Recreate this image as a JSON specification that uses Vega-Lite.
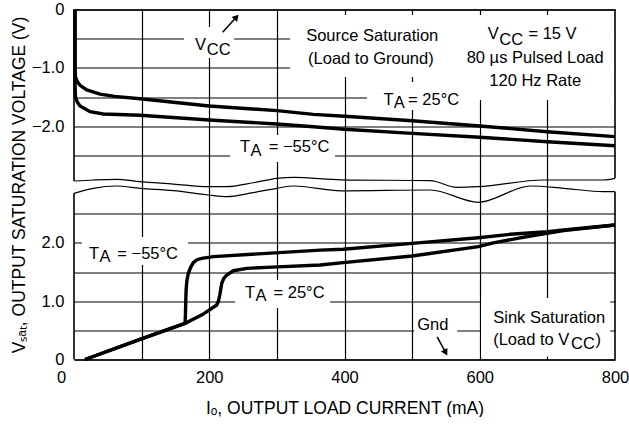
{
"$schema": "https://vega.github.io/schema/vega-lite/v6.json",
"background": "white",
"padding": {"left": 10, "top": 1.5, "right": 0, "bottom": 0},
"spacing": 0,
"bounds": "flush",
"resolve": {"scale": {"x": "independent", "y": "independent"}},
"config": {
  "view": {"stroke": null},
  "font": "Liberation Sans",
  "axis": {"labelFont": "Liberation Sans", "labelFontSize": 16.5, "labelColor": "black", "titleFont": "Liberation Sans", "titleFontSize": 17.5, "titleFontWeight": "normal", "titleColor": "black", "gridColor": "black", "gridWidth": 1.2, "gridOpacity": 1, "domainColor": "black", "domainWidth": 1.6, "ticks": false},
  "text": {"font": "Liberation Sans", "fontSize": 16.5}
},
"datasets": {
  "src": [
    {"I":1.5,"V":0,"T":"25"},{"I":1.5,"V":-1.0,"T":"25"},{"I":2.2,"V":-1.16,"T":"25"},{"I":5,"V":-1.24,"T":"25"},{"I":8.9,"V":-1.3,"T":"25"},{"I":18.8,"V":-1.38,"T":"25"},{"I":38.5,"V":-1.45,"T":"25"},{"I":60,"V":-1.49,"T":"25"},{"I":97.6,"V":-1.53,"T":"25"},{"I":200,"V":-1.654,"T":"25"},{"I":300,"V":-1.734,"T":"25"},{"I":354,"V":-1.797,"T":"25"},{"I":400,"V":-1.83,"T":"25"},{"I":500,"V":-1.906,"T":"25"},{"I":600,"V":-1.997,"T":"25"},{"I":700,"V":-2.095,"T":"25"},{"I":800,"V":-2.18,"T":"25"},
    {"I":1.5,"V":0,"T":"-55"},{"I":1.5,"V":-1.3,"T":"-55"},{"I":2.2,"V":-1.5,"T":"-55"},{"I":5,"V":-1.59,"T":"-55"},{"I":8.9,"V":-1.654,"T":"-55"},{"I":23.7,"V":-1.752,"T":"-55"},{"I":43.3,"V":-1.791,"T":"-55"},{"I":97.6,"V":-1.812,"T":"-55"},{"I":200,"V":-1.894,"T":"-55"},{"I":300,"V":-1.963,"T":"-55"},{"I":354,"V":-2.009,"T":"-55"},{"I":400,"V":-2.054,"T":"-55"},{"I":500,"V":-2.123,"T":"-55"},{"I":600,"V":-2.19,"T":"-55"},{"I":700,"V":-2.266,"T":"-55"},{"I":800,"V":-2.335,"T":"-55"}
  ],
  "snk": [
    {"I":16.3,"V":0,"T":"-55"},{"I":97.6,"V":0.346,"T":"-55"},{"I":164.2,"V":0.62,"T":"-55"},{"I":164.7,"V":0.74,"T":"-55"},{"I":165.3,"V":1.0,"T":"-55"},{"I":165.8,"V":1.2,"T":"-55"},{"I":167,"V":1.36,"T":"-55"},{"I":169.1,"V":1.478,"T":"-55"},{"I":172.5,"V":1.58,"T":"-55"},{"I":176.5,"V":1.66,"T":"-55"},{"I":182,"V":1.71,"T":"-55"},{"I":188.9,"V":1.735,"T":"-55"},{"I":206,"V":1.763,"T":"-55"},{"I":285,"V":1.82,"T":"-55"},{"I":364,"V":1.875,"T":"-55"},{"I":398,"V":1.89,"T":"-55"},{"I":500,"V":1.99,"T":"-55"},{"I":598,"V":2.088,"T":"-55"},{"I":645,"V":2.146,"T":"-55"},{"I":700,"V":2.19,"T":"-55"},{"I":724,"V":2.22,"T":"-55"},{"I":800,"V":2.306,"T":"-55"},
    {"I":16.3,"V":0,"T":"25"},{"I":97.6,"V":0.346,"T":"25"},{"I":164.2,"V":0.62,"T":"25"},{"I":190,"V":0.77,"T":"25"},{"I":211,"V":0.934,"T":"25"},{"I":213.5,"V":1.0,"T":"25"},{"I":215.5,"V":1.1,"T":"25"},{"I":218.5,"V":1.306,"T":"25"},{"I":221.5,"V":1.39,"T":"25"},{"I":225.9,"V":1.449,"T":"25"},{"I":235.7,"V":1.522,"T":"25"},{"I":255.5,"V":1.563,"T":"25"},{"I":285,"V":1.58,"T":"25"},{"I":364,"V":1.62,"T":"25"},{"I":398,"V":1.66,"T":"25"},{"I":500,"V":1.774,"T":"25"},{"I":598,"V":1.934,"T":"25"},{"I":620,"V":2.0,"T":"25"},{"I":675,"V":2.117,"T":"25"},{"I":724,"V":2.21,"T":"25"},{"I":800,"V":2.306,"T":"25"}
  ],
  "wtop": [
    {"I":0,"V":-2.94},{"I":28.6,"V":-2.923},{"I":63,"V":-2.912},{"I":97.6,"V":-2.952},{"I":147,"V":-2.992},{"I":199,"V":-3.038},{"I":226,"V":-3.038},{"I":265,"V":-2.97},{"I":300,"V":-2.894},{"I":325,"V":-2.877},{"I":395,"V":-2.92},{"I":527,"V":-2.935},{"I":566,"V":-3.048},{"I":598,"V":-3.038},{"I":694,"V":-2.923},{"I":783,"V":-2.923},{"I":800,"V":-2.894}
  ],
  "wbot": [
    {"I":0,"V":2.849},{"I":28.6,"V":2.935},{"I":63,"V":2.974},{"I":97.6,"V":2.935},{"I":147,"V":2.894},{"I":199,"V":2.82},{"I":226,"V":2.791},{"I":265,"V":2.86},{"I":300,"V":2.935},{"I":325,"V":2.974},{"I":395,"V":2.89},{"I":527,"V":2.906},{"I":598,"V":2.695},{"I":675,"V":2.974},{"I":724,"V":2.935},{"I":783,"V":2.877},{"I":800,"V":2.877}
  ],
  "btop": [{"I":0,"V":-2.94,"V2":0},{"I":800,"V":-2.894,"V2":0}],
  "bbot": [{"I":0,"V":2.849,"V2":0},{"I":800,"V":2.877,"V2":0}],
  "xtop": [
    {"I":162.7,"I2":236.7,"V":-0.30,"V2":-0.831},
    {"I":319.5,"I2":800,"V":-0.094,"V2":-1.157},
    {"I":571,"I2":800,"V":-0.094,"V2":-1.551},
    {"I":433.4,"I2":585.8,"V":-1.243,"V2":-1.723},
    {"I":230.8,"I2":386,"V":-2.152,"V2":-2.615}
  ],
  "xbot": [
    {"I":11.8,"I2":168.6,"V":2.10,"V2":1.62},
    {"I":238.2,"I2":378.7,"V":1.363,"V2":0.883},
    {"I":503,"I2":566.6,"V":0.849,"V2":0.386},
    {"I":602,"I2":793,"V":1.054,"V2":0.05}
  ],
  "atop": [{"I":219.8,"V":-0.391,"I2":240.2,"V2":-0.13}],
  "htop": [{"I":240.2,"V":-0.13}],
  "abot": [{"I":537,"V":0.386,"I2":549.7,"V2":0.118}],
  "hbot": [{"I":549.7,"V":0.118}],
  "ttop": [
    {"I":179,"V":-0.694,"t":"V","k":"l"},
    {"I":196.4,"V":-0.78,"t":"CC","k":"l"},
    {"I":441,"V":-0.54,"t":"Source Saturation","k":"c"},
    {"I":439,"V":-0.934,"t":"(Load to Ground)","k":"c"},
    {"I":612,"V":-0.506,"t":"V","k":"l"},
    {"I":629,"V":-0.609,"t":"CC","k":"l"},
    {"I":672,"V":-0.506,"t":"= 15 V","k":"l"},
    {"I":682,"V":-0.917,"t":"80 µs Pulsed Load","k":"c"},
    {"I":682,"V":-1.311,"t":"120 Hz Rate","k":"c"},
    {"I":457.5,"V":-1.637,"t":"T","k":"l"},
    {"I":473,"V":-1.694,"t":"A","k":"l"},
    {"I":494,"V":-1.637,"t":"= 25°C","k":"l"},
    {"I":245.6,"V":-2.443,"t":"T","k":"l"},
    {"I":261,"V":-2.503,"t":"A","k":"l"},
    {"I":288,"V":-2.443,"t":"= −55°C","k":"l"}
  ],
  "tbot": [
    {"I":22.2,"V":1.723,"t":"T","k":"l"},
    {"I":37.7,"V":1.666,"t":"A","k":"l"},
    {"I":64,"V":1.723,"t":"= −55°C","k":"l"},
    {"I":253,"V":1.054,"t":"T","k":"l"},
    {"I":268.5,"V":0.998,"t":"A","k":"l"},
    {"I":295,"V":1.054,"t":"= 25°C","k":"l"},
    {"I":507.4,"V":0.506,"t":"Gnd","k":"l"},
    {"I":702.7,"V":0.626,"t":"Sink Saturation","k":"c"},
    {"I":619.8,"V":0.249,"t":"(Load to V","k":"l"},
    {"I":735,"V":0.18,"t":"CC","k":"l"},
    {"I":771,"V":0.249,"t":")","k":"l"}
  ]
},
"vconcat": [
  {
    "width": 541, "height": 175,
    "encoding": {
      "x": {"field": "I", "type": "quantitative", "scale": {"domain": [0, 800], "nice": false, "zero": false},
            "axis": {"orient": "top", "values": [100,200,300,400,500,600,700], "labels": false, "domain": true, "grid": true, "title": null}},
      "y": {"field": "V", "type": "quantitative", "scale": {"domain": [-3, 0], "nice": false, "zero": false},
            "axis": {"values": [0,-0.5,-1,-1.5,-2,-2.5], "grid": true, "domain": false, "labelPadding": 10,
                     "labelExpr": "datum.value == 0 ? '0' : (datum.value % 1 == 0 ? format(datum.value, '.1f') : '')",
                     "title": "Vₛₐₜ, OUTPUT SATURATION VOLTAGE (V)", "titleX": -46, "titleY": 175}}
    },
    "layer": [
      {"data": {"name": "xtop"}, "mark": {"type": "rect", "fill": "white", "stroke": null}, "encoding": {"x2": {"field": "I2"}, "y2": {"field": "V2"}}},
      {"data": {"name": "src"}, "mark": {"type": "line", "color": "black", "strokeWidth": 3.4}, "encoding": {"detail": {"field": "T"}}},
      {"data": {"name": "wtop"}, "mark": {"type": "line", "color": "black", "strokeWidth": 1.2, "interpolate": "monotone"}, "encoding": {}},
      {"data": {"name": "btop"}, "mark": {"type": "rule", "color": "black", "strokeWidth": 1.6}, "encoding": {"y2": {"field": "V2"}}},
      {"data": {"name": "atop"}, "mark": {"type": "rule", "color": "black", "strokeWidth": 1.5}, "encoding": {"x2": {"field": "I2"}, "y2": {"field": "V2"}}},
      {"data": {"name": "htop"}, "mark": {"type": "point", "shape": "triangle-up", "filled": true, "color": "black", "size": 55, "angle": 41, "opacity": 1}, "encoding": {}},
      {"data": {"name": "ttop"}, "transform": [{"filter": "datum.k == 'l'"}], "mark": {"type": "text", "align": "left", "baseline": "alphabetic", "color": "black"}, "encoding": {"text": {"field": "t"}}},
      {"data": {"name": "ttop"}, "transform": [{"filter": "datum.k == 'c'"}], "mark": {"type": "text", "align": "center", "baseline": "alphabetic", "color": "black"}, "encoding": {"text": {"field": "t"}}}
    ]
  },
  {
    "width": 541, "height": 175,
    "encoding": {
      "x": {"field": "I", "type": "quantitative", "scale": {"domain": [0, 800], "nice": false, "zero": false},
            "axis": {"orient": "bottom", "values": [0,100,200,300,400,500,600,700,800], "grid": true,
                     "gridOpacity": {"condition": {"test": "datum.value == 0 || datum.value == 800", "value": 0}, "value": 1},
                     "labelExpr": "datum.value % 200 == 0 ? datum.label : ''", "labelFlush": false, "labelPadding": 10,
                     "labelOffset": {"condition": {"test": "datum.value == 0", "value": -13}, "value": 0},
                     "domain": true, "title": "Iₒ, OUTPUT LOAD CURRENT (mA)", "titlePadding": 13}},
      "y": {"field": "V", "type": "quantitative", "scale": {"domain": [0, 3], "nice": false, "zero": false},
            "axis": {"values": [0,0.5,1,1.5,2,2.5], "grid": true, "domain": false, "labelPadding": 10,
                     "labelExpr": "datum.value == 0 ? '0' : (datum.value % 1 == 0 ? format(datum.value, '.1f') : '')",
                     "title": null}}
    },
    "layer": [
      {"data": {"name": "xbot"}, "mark": {"type": "rect", "fill": "white", "stroke": null}, "encoding": {"x2": {"field": "I2"}, "y2": {"field": "V2"}}},
      {"data": {"name": "snk"}, "mark": {"type": "line", "color": "black", "strokeWidth": 3.4}, "encoding": {"detail": {"field": "T"}}},
      {"data": {"name": "wbot"}, "mark": {"type": "line", "color": "black", "strokeWidth": 1.2, "interpolate": "monotone"}, "encoding": {}},
      {"data": {"name": "bbot"}, "mark": {"type": "rule", "color": "black", "strokeWidth": 1.6}, "encoding": {"y2": {"field": "V2"}}},
      {"data": {"name": "abot"}, "mark": {"type": "rule", "color": "black", "strokeWidth": 1.5}, "encoding": {"x2": {"field": "I2"}, "y2": {"field": "V2"}}},
      {"data": {"name": "hbot"}, "mark": {"type": "point", "shape": "triangle-up", "filled": true, "color": "black", "size": 55, "angle": 151, "opacity": 1}, "encoding": {}},
      {"data": {"name": "tbot"}, "transform": [{"filter": "datum.k == 'l'"}], "mark": {"type": "text", "align": "left", "baseline": "alphabetic", "color": "black"}, "encoding": {"text": {"field": "t"}}},
      {"data": {"name": "tbot"}, "transform": [{"filter": "datum.k == 'c'"}], "mark": {"type": "text", "align": "center", "baseline": "alphabetic", "color": "black"}, "encoding": {"text": {"field": "t"}}}
    ]
  }
]
}
